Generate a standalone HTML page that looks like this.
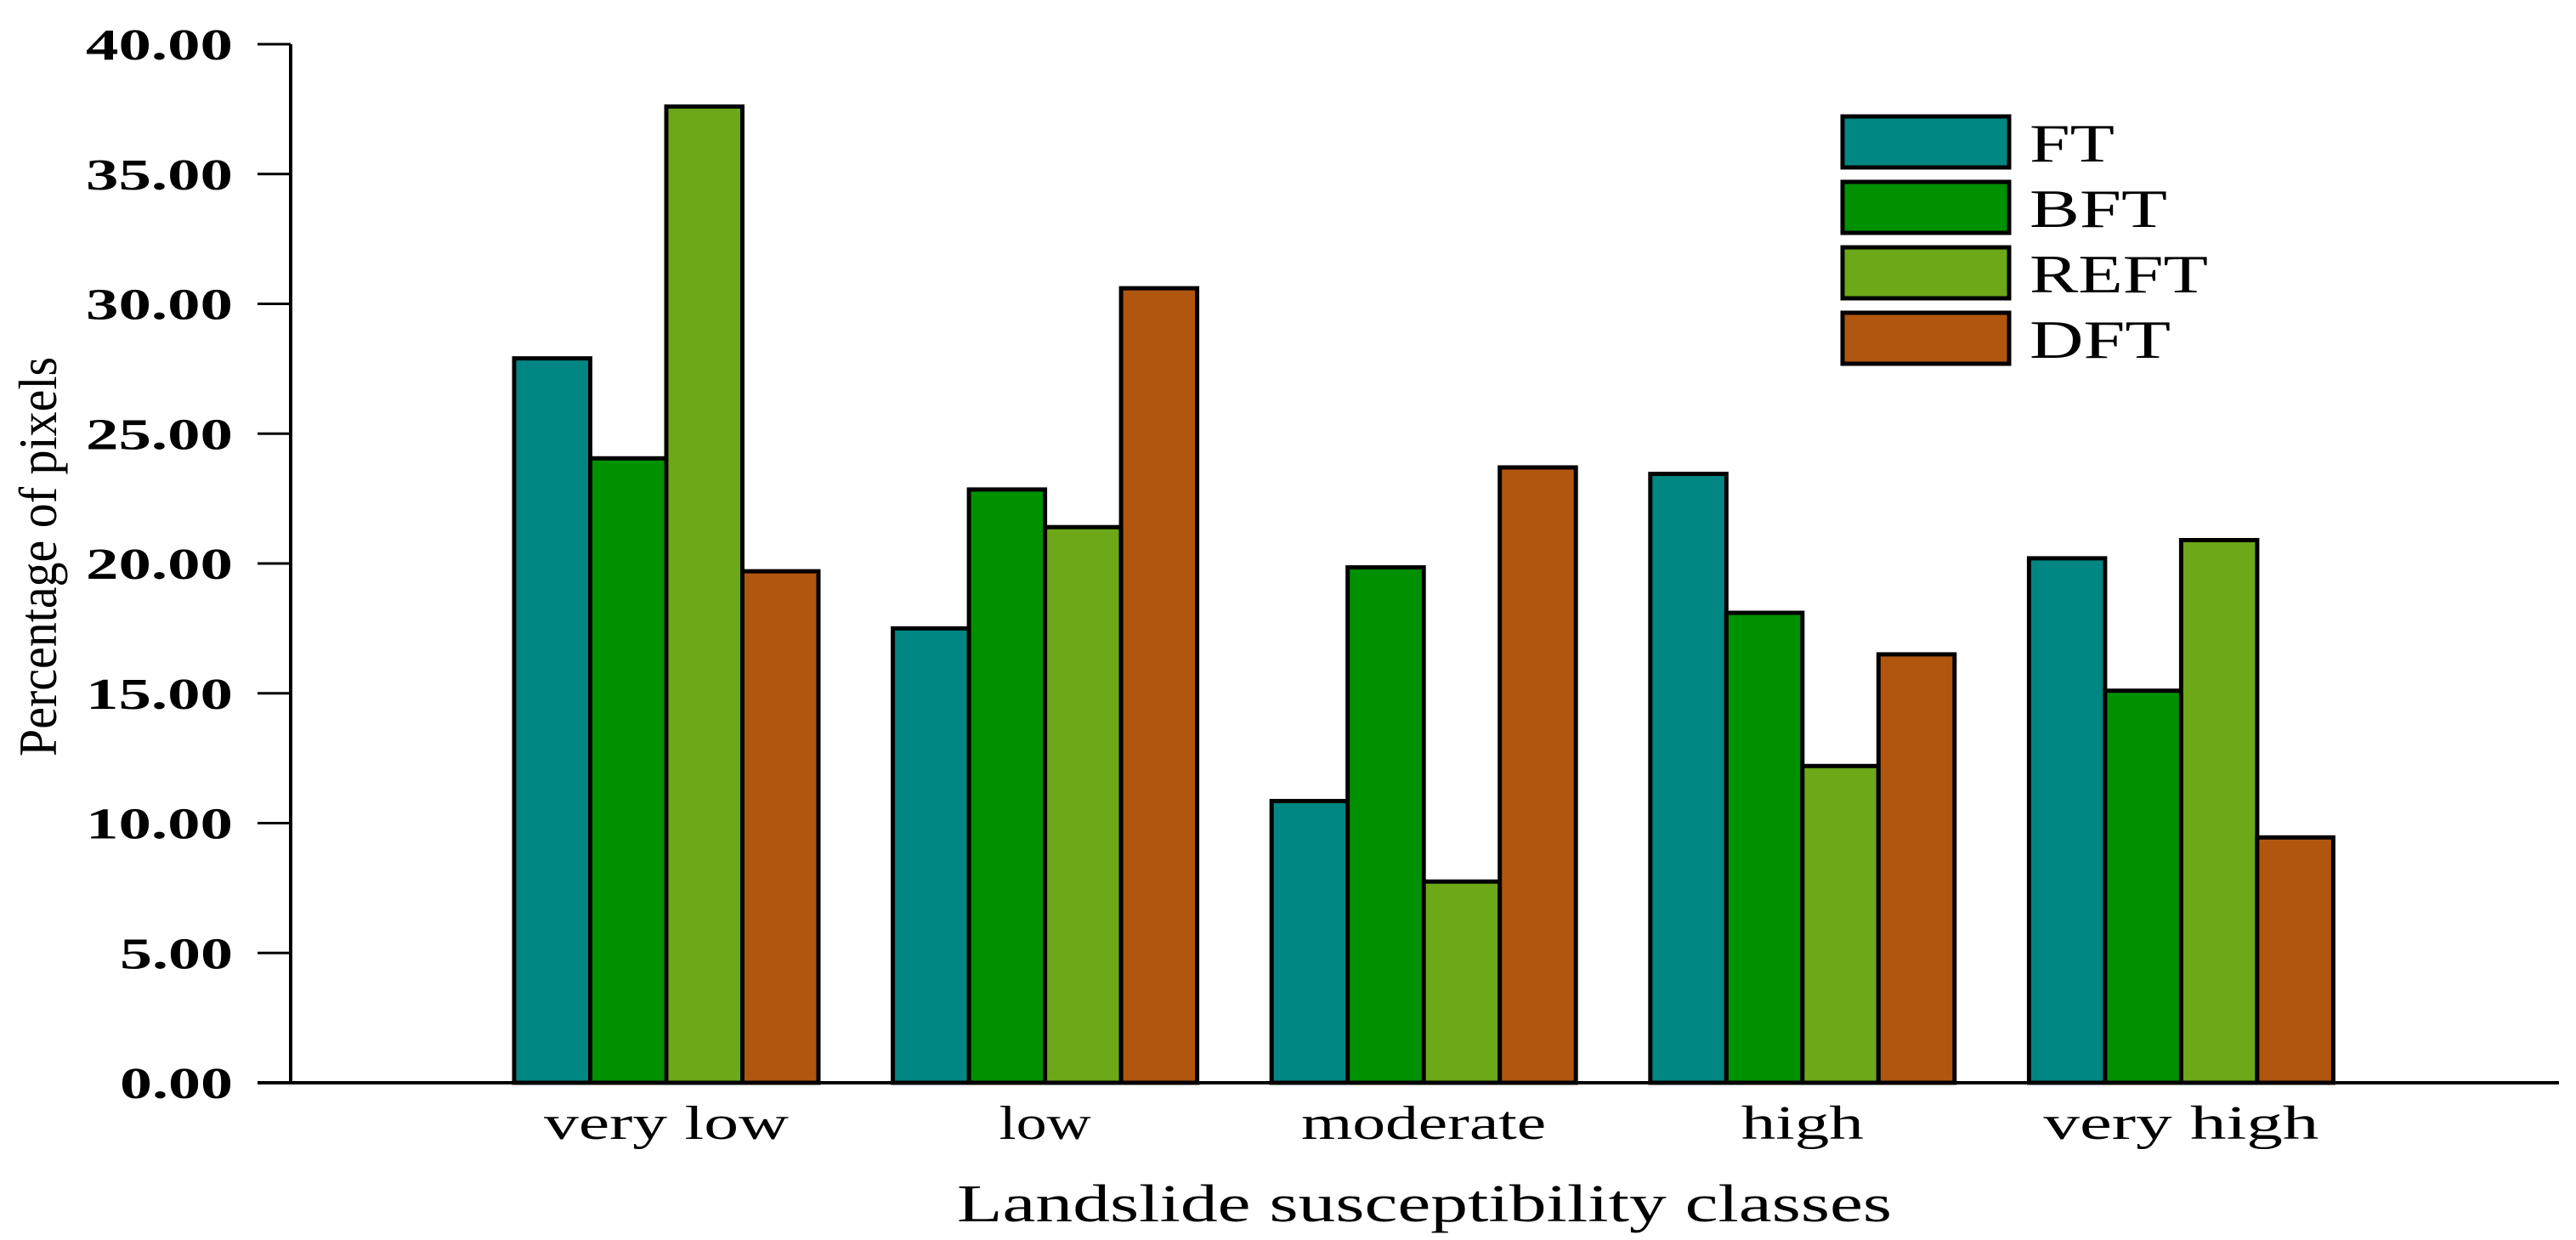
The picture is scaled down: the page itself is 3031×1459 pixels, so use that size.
<!DOCTYPE html>
<html><head><meta charset="utf-8"><style>
html,body{margin:0;padding:0;background:#fff;}
svg{display:block;}
text{font-family:"Liberation Serif",serif;fill:#000;}
</style></head><body>
<svg id="chart" width="3031" height="1459" viewBox="0 0 3031 1459" xmlns="http://www.w3.org/2000/svg">
<g id="axes"></g>
<g id="bars"></g>
<g id="legend"></g>
<text x="1676" y="1437" font-size="62" text-anchor="middle" textLength="1100" lengthAdjust="spacingAndGlyphs">Landslide susceptibility classes</text>
<text transform="translate(66,655) rotate(-90)" font-size="64" text-anchor="middle" textLength="470" lengthAdjust="spacingAndGlyphs">Percentage of pixels</text>
</svg>
<script>
const categories = ["very low","low","moderate","high","very high"];
const seriesNames = ["FT","BFT","REFT","DFT"];
const ftValues = [27.9, 17.5, 10.85, 23.45, 20.2];
const bftValues = [24.05, 22.85, 19.85, 18.1, 15.1];
const reftValues = [37.6, 21.4, 7.75, 12.2, 20.9];
const dftValues = [19.7, 30.6, 23.7, 16.5, 9.45];
const yTicks = [0,5,10,15,20,25,30,35,40];
const yTickLabels = ["0.00","5.00","10.00","15.00","20.00","25.00","30.00","35.00","40.00"];
const colors = ["#008784","#009100","#6ca817","#b0560f"];

const NS = "http://www.w3.org/2000/svg";
const axisX = 342, y0 = 1274, yTop = 52, yMax = 40;
const groupStart = 605, groupStep = 445.6, barW = 89.5;
function yScale(v){ return y0 - (v / yMax) * (y0 - yTop); }
function xScale(ci, si){ return groupStart + ci * groupStep + si * barW; }
function mk(tag, attrs, parent){ const e = document.createElementNS(NS, tag); for (const k in attrs) e.setAttribute(k, attrs[k]); parent.appendChild(e); return e; }

const axes = document.getElementById('axes');
let l = mk('line', {x1: axisX, y1: yTop, x2: axisX, y2: y0 + 2, stroke: '#000', 'stroke-width': 4}, axes);


l = mk('line', {x1: 303, y1: y0, x2: 3011, y2: y0, stroke: '#000', 'stroke-width': 4}, axes);


yTicks.forEach((t, i) => {
  const y = yScale(t);
  if (t > 0) {
    const tk = mk('line', {x1: 303, y1: y, x2: axisX, y2: y, stroke: '#000', 'stroke-width': 3}, axes);
    
    
  }
  const lab = yTickLabels[i];
  const w = lab.length === 5 ? 173 : 133;
  const tx = mk('text', {x: 274, y: y + 18, 'font-size': 52, 'font-weight': 'bold', 'text-anchor': 'end', textLength: w, lengthAdjust: 'spacingAndGlyphs'}, axes);
  tx.textContent = lab;
  
  
});
categories.forEach((c, ci) => {
  const cx = xScale(ci, 2);
  const w = c.length * 36;
  const tx = mk('text', {x: cx, y: 1340, 'font-size': 56, 'text-anchor': 'middle', textLength: w, lengthAdjust: 'spacingAndGlyphs'}, axes);
  tx.textContent = c;
  
  
});

const bars = document.getElementById('bars');
const allSeries = [ftValues, bftValues, reftValues, dftValues];
allSeries.forEach((vals, si) => {
  vals.forEach((v, ci) => {
    const x = xScale(ci, si), y = yScale(v);
    const r = mk('rect', {x: x, y: y, width: barW, height: y0 - y, fill: colors[si], stroke: '#000', 'stroke-width': 5}, bars);
    
    
  });
});

const legend = document.getElementById('legend');
const legendW = [100, 162, 210, 166];
seriesNames.forEach((n, i) => {
  const y = 137 + i * 77;
  const r = mk('rect', {x: 2168, y: y, width: 196, height: 60, fill: colors[i], stroke: '#000', 'stroke-width': 5}, legend);
  
  
  const t = mk('text', {x: 2388, y: y + 53, 'font-size': 64, textLength: legendW[i], lengthAdjust: 'spacingAndGlyphs'}, legend);
  t.textContent = n;
  
  
});
</script>
</body></html>
